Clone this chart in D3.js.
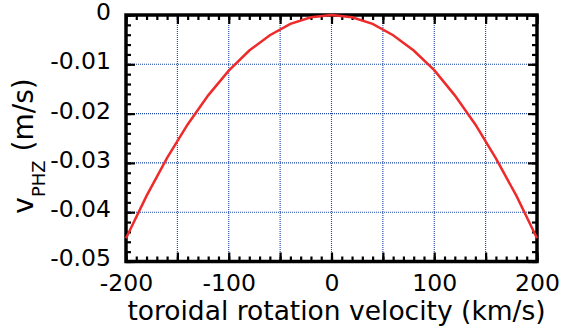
<!DOCTYPE html>
<html>
<head>
<meta charset="utf-8">
<script src="https://cdn.jsdelivr.net/npm/d3@7"></script>
<style>
  body { margin: 0; background: #fff; }
  svg { display: block; }
  .axis path { display: none; }
  .axis line { stroke: #000; stroke-width: 2.2; }
  .axis text { font-family: "DejaVu Sans", sans-serif; font-size: 23.5px; fill: #000; }
  .grid line { stroke: #1c45a8; stroke-width: 1.1; stroke-dasharray: 1,1; }
</style>
</head>
<body>
<div id="chart"></div>
<script>
// toroidal rotation velocity (km/s)
var velocity = [-200, -180, -160, -140, -120, -100, -80, -60, -40, -20, 0,
                20, 40, 60, 80, 100, 120, 140, 160, 180, 200];
// v_PHZ (m/s)
var vphz = [-0.0453, -0.0367, -0.0290, -0.0222, -0.0163, -0.0113, -0.0072, -0.0041, -0.0018, -0.00045, 0,
            -0.00045, -0.0018, -0.0041, -0.0072, -0.0112, -0.0163, -0.0222, -0.0291, -0.0367, -0.0453];

var xMajor = [-200, -150, -100, -50, 0, 50, 100, 150, 200];
var xLabels = [-200, -100, 0, 100, 200];
var yMajor = [0, -0.01, -0.02, -0.03, -0.04, -0.05];

var W = 561, H = 336;
var margin = {top: 15, right: 24, bottom: 74.5, left: 126};
var width = W - margin.left - margin.right,
    height = H - margin.top - margin.bottom;

var svg = d3.select("#chart").append("svg")
    .attr("width", W)
    .attr("height", H);

var g = svg.append("g").attr("transform", "translate(" + margin.left + "," + margin.top + ")");

var x = d3.scaleLinear().domain([-200, 200]).range([0, width]);
var y = d3.scaleLinear().domain([-0.05, 0]).range([height, 0]);

var xMinor = d3.range(-200, 201, 10);
var yMinor = d3.range(0, 26).map(function (i) { return -i * 0.002; });

// grid
g.append("g").attr("class", "grid")
    .selectAll("line")
    .data(xMajor.slice(1, -1))
    .enter().append("line")
    .attr("x1", function (d) { return x(d); })
    .attr("x2", function (d) { return x(d); })
    .attr("y1", 0).attr("y2", height);

g.append("g").attr("class", "grid")
    .selectAll("line")
    .data(yMajor.slice(1, -1))
    .enter().append("line")
    .attr("y1", function (d) { return y(d); })
    .attr("y2", function (d) { return y(d); })
    .attr("x1", 0).attr("x2", width);

// minor ticks, all four sides, pointing in
g.append("g").attr("class", "axis")
    .attr("transform", "translate(0," + height + ")")
    .call(d3.axisBottom(x).tickValues(xMinor).tickSize(-5).tickFormat(""));
g.append("g").attr("class", "axis")
    .call(d3.axisTop(x).tickValues(xMinor).tickSize(-5).tickFormat(""));
g.append("g").attr("class", "axis")
    .call(d3.axisLeft(y).tickValues(yMinor).tickSize(-5).tickFormat(""));
g.append("g").attr("class", "axis")
    .attr("transform", "translate(" + width + ",0)")
    .call(d3.axisRight(y).tickValues(yMinor).tickSize(-5).tickFormat(""));

// major ticks + labels
g.append("g").attr("class", "axis")
    .attr("transform", "translate(0," + height + ")")
    .call(d3.axisBottom(x).tickValues(xMajor).tickSize(-9).tickPadding(13)
        .tickFormat(function (d) { return xLabels.indexOf(d) >= 0 ? String(d) : ""; }));
g.append("g").attr("class", "axis")
    .call(d3.axisTop(x).tickValues(xMajor).tickSize(-9).tickFormat(""));

var yAxis = g.append("g").attr("class", "axis")
    .call(d3.axisLeft(y).tickValues(yMajor).tickSize(-9).tickPadding(15)
        .tickFormat(function (d) { return d === 0 ? "0" : d.toFixed(2); }));
yAxis.selectAll("text").attr("dy", "0.19em");
g.append("g").attr("class", "axis")
    .attr("transform", "translate(" + width + ",0)")
    .call(d3.axisRight(y).tickValues(yMajor).tickSize(-9).tickFormat(""));

// frame
g.append("rect")
    .attr("width", width).attr("height", height)
    .attr("fill", "none").attr("stroke", "#000").attr("stroke-width", 3.5);

// curve
var line = d3.line()
    .x(function (d, i) { return x(velocity[i]); })
    .y(function (d) { return y(d); });

g.append("path")
    .datum(vphz)
    .attr("fill", "none")
    .attr("stroke", "#ee2a2a")
    .attr("stroke-width", 2.5)
    .attr("d", line);

// titles
svg.append("text")
    .attr("x", 336.5).attr("y", 320)
    .attr("text-anchor", "middle")
    .style("font-family", "DejaVu Sans, sans-serif")
    .style("font-size", "26.5px")
    .text("toroidal rotation velocity (km/s)");

var yt = svg.append("text")
    .attr("transform", "translate(33,146) rotate(-90)")
    .attr("text-anchor", "middle")
    .style("font-family", "DejaVu Sans, sans-serif")
    .style("font-size", "28px");
yt.append("tspan").text("v");
yt.append("tspan").attr("dy", 12).style("font-size", "18px").text("PHZ");
yt.append("tspan").attr("dy", -12).text(" (m/s)");
</script>
</body>
</html>
